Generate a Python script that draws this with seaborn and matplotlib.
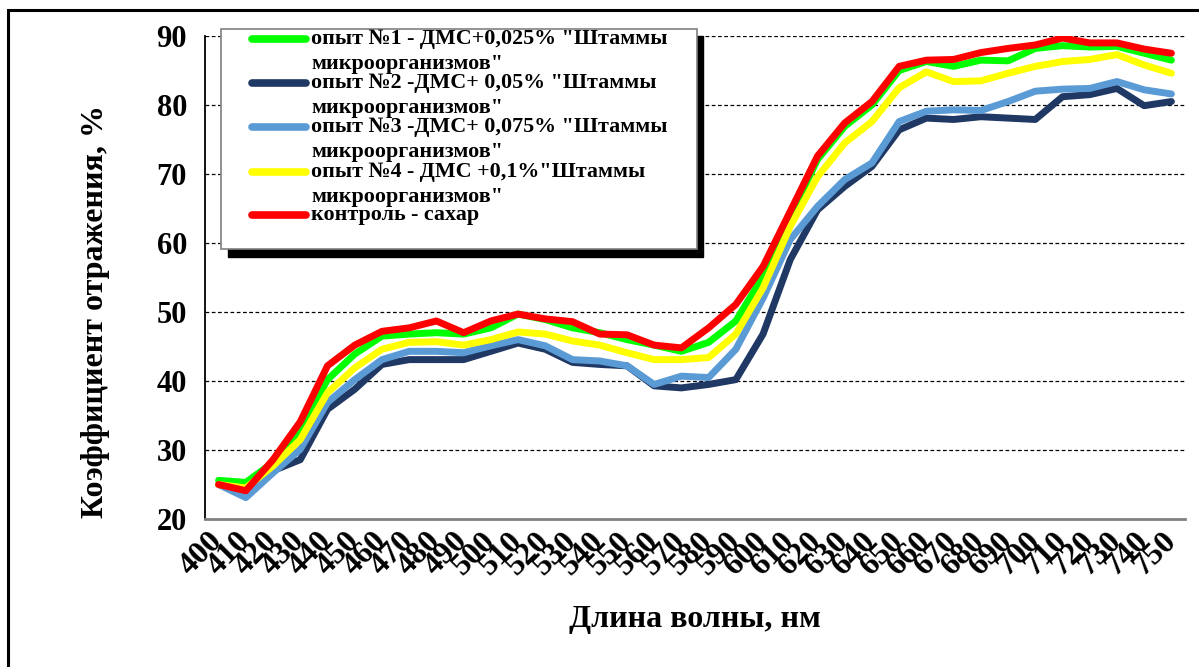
import numpy as np
import pandas as pd
import matplotlib
matplotlib.use("Agg")
import matplotlib.pyplot as plt
import matplotlib.transforms as mtransforms
from matplotlib.patches import Rectangle
from matplotlib.lines import Line2D
import seaborn as sns

# wavelengths, nm
wavelengths = list(range(400, 760, 10))

series_names = [
    'опыт №1 - ДМС+0,025% "Штаммы\nмикроорганизмов"',
    'опыт №2 -ДМС+ 0,05% "Штаммы\nмикроорганизмов"',
    'опыт №3 -ДМС+ 0,075% "Штаммы\nмикроорганизмов"',
    'опыт №4 - ДМС +0,1%"Штаммы\nмикроорганизмов"',
    'контроль - сахар',
]
series_colors = ["#00FF00", "#1F3864", "#5B9BD5", "#FFFF00", "#FF0000"]

exp1 = [25.6, 25.3, 28.2, 33.0, 40.2, 43.9, 46.5, 46.8, 47.0, 46.8, 47.7, 49.7,
        48.9, 47.7, 47.0, 46.0, 45.2, 44.3, 45.6, 48.7, 55.2, 63.9, 72.1, 76.9,
        80.0, 85.0, 86.3, 85.6, 86.5, 86.4, 88.2, 88.6, 88.4, 88.5, 87.5, 86.5]
exp2 = [25.0, 23.8, 27.0, 28.6, 35.9, 38.8, 42.4, 43.1, 43.1, 43.1, 44.3, 45.5,
        44.6, 42.7, 42.4, 42.2, 39.3, 39.0, 39.5, 40.2, 46.8, 57.6, 64.8, 68.2,
        71.1, 76.4, 78.1, 77.9, 78.3, 78.1, 77.9, 81.2, 81.5, 82.4, 79.9, 80.5]
exp3 = [25.0, 23.1, 26.7, 30.1, 36.9, 40.2, 43.1, 44.3, 44.3, 44.1, 45.1, 46.0,
        45.1, 43.1, 42.9, 42.2, 39.5, 40.7, 40.5, 44.6, 52.0, 60.5, 65.3, 69.2,
        71.6, 77.6, 79.1, 79.3, 79.2, 80.5, 82.0, 82.3, 82.4, 83.4, 82.2, 81.6]
exp4 = [25.0, 24.5, 27.7, 31.5, 38.3, 41.9, 44.6, 45.6, 45.7, 45.2, 46.0, 47.1,
        46.8, 45.8, 45.2, 44.1, 43.1, 43.1, 43.4, 46.8, 53.5, 62.4, 69.6, 74.5,
        77.6, 82.5, 84.8, 83.4, 83.5, 84.6, 85.6, 86.3, 86.6, 87.3, 85.8, 84.6]
control = [25.0, 24.1, 28.6, 34.1, 42.2, 45.2, 47.2, 47.7, 48.7, 47.0, 48.7, 49.7,
           49.0, 48.6, 46.8, 46.7, 45.2, 44.8, 47.7, 51.1, 56.6, 64.6, 72.6, 77.4,
           80.5, 85.6, 86.5, 86.6, 87.6, 88.2, 88.7, 89.7, 89.0, 89.0, 88.1, 87.5]

y_ticks = [20, 30, 40, 50, 60, 70, 80, 90]

frames = []
for name, vals in zip(series_names, [exp1, exp2, exp3, exp4, control]):
    frames.append(pd.DataFrame({"wl": wavelengths, "value": vals, "series": name}))
df = pd.concat(frames, ignore_index=True)

sns.set_style("white")
plt.rcParams["font.family"] = ["Liberation Serif", "DejaVu Serif"]
plt.rcParams["font.weight"] = "bold"
for key in ["text.color", "axes.labelcolor", "xtick.color", "ytick.color"]:
    plt.rcParams[key] = "black"

W, H = 1199, 667
fig = plt.figure(figsize=(W / 100, H / 100), dpi=100)


def fx(px):
    return px / W


def fy(py):
    return 1 - py / H


ax = fig.add_axes([fx(205), fy(519), fx(1185) - fx(205), fy(36) - fy(519)])
ax.patch.set_visible(False)

sns.lineplot(data=df, x="wl", y="value", hue="series", hue_order=series_names,
             palette=series_colors, linewidth=5, legend=False, sort=False,
             solid_capstyle="round", solid_joinstyle="round", ax=ax)

ax.set_xlim(395, 755)
ax.set_ylim(20, 90)
ax.set_yticks(y_ticks)
ax.set_yticklabels([str(v) for v in y_ticks], fontsize=22, fontweight="bold")
ax.set_xticks(wavelengths)
ax.set_xticklabels([str(w) for w in wavelengths], rotation=45, ha="right",
                   va="center", rotation_mode="anchor", fontsize=23, fontweight="bold")
shift = mtransforms.ScaledTranslation(9 / 100, 0, fig.dpi_scale_trans)
for lab in ax.get_xticklabels():
    lab.set_transform(lab.get_transform() + shift)
ax.set_xticks([w - 5 for w in wavelengths] + [755], minor=True)
ax.tick_params(axis="x", which="major", length=0, pad=13)
ax.tick_params(axis="x", which="minor", length=7, width=1.2, color="#404040", direction="out")
ax.tick_params(axis="y", length=7, width=1, color="black", direction="out", pad=6)

for v in y_ticks[1:]:
    ax.axhline(v, color="black", linewidth=0.9, linestyle=(0, (3, 2)), zorder=0.5)

for s in ["top", "right"]:
    ax.spines[s].set_visible(False)
ax.spines["left"].set_color("black")
ax.spines["left"].set_linewidth(1.3)
ax.spines["bottom"].set_color("#808080")
ax.spines["bottom"].set_linewidth(2)

ax.set_xlabel("Длина волны, нм", fontsize=23, fontweight="bold")
ax.set_ylabel("Коэффициент отражения, %", fontsize=23, fontweight="bold")
ax.xaxis.set_label_coords(0.5, -0.209)
ax.yaxis.set_label_coords(-0.112, 0.43)
ax.xaxis.label.set_va("center")
ax.yaxis.label.set_va("center")

# outer chart frame
fig.patches.append(Rectangle((fx(8), fy(690)), fx(1240) - fx(8), fy(10) - fy(690),
                             transform=fig.transFigure, fill=False, edgecolor="black",
                             linewidth=2.2, zorder=0))

# legend box with shadow
fig.patches.append(Rectangle((fx(228), fy(257)), fx(703) - fx(228), fy(36) - fy(257),
                             transform=fig.transFigure, facecolor="black", edgecolor="black",
                             zorder=3))
fig.patches.append(Rectangle((fx(221), fy(249)), fx(697) - fx(221), fy(29) - fy(249),
                             transform=fig.transFigure, facecolor="white", edgecolor="#808080",
                             linewidth=1.2, zorder=4))

handle_y = [39, 83, 127, 172, 215]
for name, color, hy in zip(series_names, series_colors, handle_y):
    fig.lines.append(Line2D([fx(252), fx(306)], [fy(hy), fy(hy)], transform=fig.transFigure,
                            color=color, linewidth=5.5, solid_capstyle="round", zorder=5))
    fig.text(fx(311), fy(hy - 10), name, fontsize=15.8, fontweight="bold",
             va="top", ha="left", linespacing=1.36, zorder=6)

fig.savefig("out.png", dpi=100)
